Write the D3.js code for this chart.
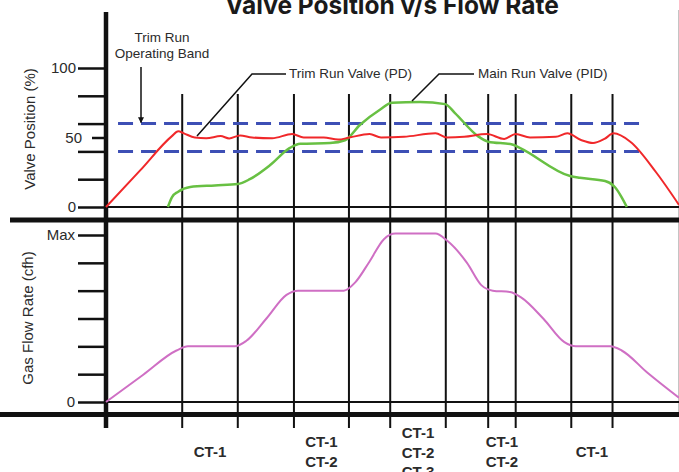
<!DOCTYPE html>
<html>
<head>
<meta charset="utf-8">
<script src="https://cdn.jsdelivr.net/npm/d3@7"></script>
<style>
  body { margin: 0; background: #fff; }
  svg { display: block; font-family: "Liberation Sans", Arial, sans-serif; }
</style>
</head>
<body>
<div id="chart"></div>
<script>
// data
const title = 'Valve Position v/s Flow Rate';
const eventTimes = [13.3, 23, 32.8, 42.4, 49.6, 59.3, 66.7, 71.5, 81.2, 88.4];
const stageLabels = [['CT-1'], ['CT-1', 'CT-2'], ['CT-1', 'CT-2', 'CT-3'], ['CT-1', 'CT-2'], ['CT-1']];
const valveTicks = [0, 20, 40, 60, 80, 100];
const valveLabelTicks = [0, 100];
const valveMidTick = 50;
const bandLimits = [40, 60];
const bandSpan = [2.1, 93.4];
const flowTicks = [0, 1, 2, 3, 4, 5, 6];
const flowTickNames = ['0', '', '', '', '', '', 'Max'];

// trim run valve (PD), % open
const trimValve = [
  [0, 0], [6, 26.5], [11.5, 51], [12.6, 54.5], [13.6, 53], [15.5, 50], [17.5, 49.5], [20, 51],
  [21.5, 49.3], [23.4, 51.5], [25.5, 50], [29, 49.5], [32.5, 52.5], [34.5, 50],
  [38, 50], [40.5, 48.5], [42.5, 50], [46, 52.5], [48, 50], [52, 50.5], [57.5, 53],
  [59.5, 50], [62.5, 50.5], [66.5, 52.5], [69.5, 49], [71.5, 52.5], [74, 50],
  [78.5, 50.5], [80.5, 53], [83, 48], [85, 46], [87, 49], [88.6, 53], [91.5, 47],
  [96, 25], [100, 1.5],
];

// main run valve (PID), % open
const mainValve = [
  [10.8, 0], [11.5, 7], [12.6, 11], [14.7, 14.4], [19, 15.5], [23, 16.5], [25.1, 20],
  [28.6, 30], [32.1, 42.5], [33.9, 45.5], [39.1, 46], [41.7, 48], [44.3, 59],
  [47.8, 70], [49.9, 75], [54.8, 75.5], [59.2, 74], [60.9, 67.6], [64.9, 51],
  [66.7, 47], [70.9, 45], [72.3, 42.4], [81, 22.3], [82.7, 21], [87.1, 18.7],
  [88.8, 14.4], [90, 7], [90.9, 0],
];

// gas flow rate, in steps of one sixth of max
const gasFlow = [
  [0, 0], [6.5, 0.98], [12.3, 1.85], [14.3, 2], [22.5, 2], [24.5, 2.2], [28, 3],
  [31.5, 3.85], [33.5, 4], [41.5, 4], [43.5, 4.3], [46, 5.05], [48.5, 5.85],
  [50.5, 6.05], [57.5, 6.05], [59.5, 5.8], [63, 5], [65.5, 4.2], [67.5, 4],
  [70.5, 3.95], [72.5, 3.75], [76.3, 3], [80, 2.15], [82, 2], [88, 2], [90, 1.85],
  [94.5, 1.05], [100, 0.15],
];

const width = 679;
const height = 472;

const svg = d3.select('#chart')
  .append('svg')
  .attr('width', width)
  .attr('height', height);

// scales
const x = d3.scaleLinear().domain([0, 100]).range([106, 679]);
const yValve = d3.scaleLinear().domain([0, 100]).range([207, 68]);
const yFlow = d3.scaleLinear().domain([0, 6]).range([402, 235]);

const ink = '#111';
const textColor = '#2b2b2b';

// title
svg.append('text')
  .attr('x', 392)
  .attr('y', 14)
  .attr('text-anchor', 'middle')
  .attr('font-family', 'Inter, "Open Sans", sans-serif')
  .attr('font-weight', 700)
  .attr('font-size', 24.5)
  .attr('fill', '#1a1a1a')
  .text(title);

// light frame line on the right
svg.append('line')
  .attr('x1', 678.5).attr('x2', 678.5)
  .attr('y1', 10).attr('y2', 414)
  .attr('stroke', '#c4c4c4')
  .attr('stroke-width', 1);

// event lines (compressor trains switching)
svg.append('g')
  .selectAll('line')
  .data(eventTimes)
  .join('line')
  .attr('x1', (d) => x(d))
  .attr('x2', (d) => x(d))
  .attr('y1', 94)
  .attr('y2', 428)
  .attr('stroke', ink)
  .attr('stroke-width', 2);

// horizontal frame lines
const hLines = [
  { y: yValve(0), x1: 106, x2: 679, w: 2 },
  { y: 220, x1: 10, x2: 679, w: 5 },
  { y: yFlow(0), x1: 106, x2: 679, w: 2 },
  { y: 414.5, x1: 0, x2: 679, w: 5 },
];
svg.append('g')
  .selectAll('line')
  .data(hLines)
  .join('line')
  .attr('x1', (d) => d.x1)
  .attr('x2', (d) => d.x2)
  .attr('y1', (d) => d.y)
  .attr('y2', (d) => d.y)
  .attr('stroke', ink)
  .attr('stroke-width', (d) => d.w);

// main vertical axis
svg.append('line')
  .attr('x1', 106).attr('x2', 106)
  .attr('y1', 12).attr('y2', 428)
  .attr('stroke', ink)
  .attr('stroke-width', 4.5);

// valve axis
const styleAxis = (g) => g
  .call((a) => a.select('.domain').remove())
  .call((a) => a.selectAll('line').attr('stroke', ink).attr('stroke-width', 2.5))
  .call((a) => a.selectAll('text')
    .attr('fill', textColor)
    .attr('font-size', 15)
    .attr('font-family', '"Liberation Sans", Arial, sans-serif'));

svg.append('g')
  .attr('transform', 'translate(106,0)')
  .call(d3.axisLeft(yValve)
    .tickValues(valveTicks)
    .tickSize(28)
    .tickPadding(2)
    .tickFormat((d) => (valveLabelTicks.includes(d) ? d : '')))
  .call(styleAxis);

svg.append('g')
  .attr('transform', 'translate(106,0)')
  .call(d3.axisLeft(yValve)
    .tickValues([valveMidTick])
    .tickSize(14)
    .tickPadding(10))
  .call(styleAxis);

// flow axis
svg.append('g')
  .attr('transform', 'translate(106,0)')
  .call(d3.axisLeft(yFlow)
    .tickValues(flowTicks)
    .tickSize(28)
    .tickPadding(3)
    .tickFormat((d, i) => flowTickNames[i]))
  .call(styleAxis);

// axis titles
const axisTitle = (label, cx, cy) => svg.append('text')
  .attr('transform', `translate(${cx},${cy}) rotate(-90)`)
  .attr('text-anchor', 'middle')
  .attr('dy', '0.35em')
  .attr('font-size', 15)
  .attr('fill', textColor)
  .text(label);

axisTitle('Valve Position (%)', 30, 129);
axisTitle('Gas Flow Rate (cfh)', 28, 318);

// trim run operating band
svg.append('g')
  .selectAll('line')
  .data(bandLimits)
  .join('line')
  .attr('x1', x(bandSpan[0]))
  .attr('x2', x(bandSpan[1]))
  .attr('y1', (d) => yValve(d))
  .attr('y2', (d) => yValve(d))
  .attr('stroke', '#3d4fb5')
  .attr('stroke-width', 3)
  .attr('stroke-dasharray', '15 8');

// series
const valveLine = d3.line()
  .x((d) => x(d[0]))
  .y((d) => yValve(d[1]))
  .curve(d3.curveMonotoneX);

const flowLine = d3.line()
  .x((d) => x(d[0]))
  .y((d) => yFlow(d[1]))
  .curve(d3.curveMonotoneX);

svg.append('path')
  .attr('d', valveLine(mainValve))
  .attr('fill', 'none')
  .attr('stroke', '#68c043')
  .attr('stroke-width', 2.5);

svg.append('path')
  .attr('d', valveLine(trimValve))
  .attr('fill', 'none')
  .attr('stroke', '#f0282a')
  .attr('stroke-width', 2);

svg.append('path')
  .attr('d', flowLine(gasFlow))
  .attr('fill', 'none')
  .attr('stroke', '#cf6fc4')
  .attr('stroke-width', 2);

// annotations
svg.append('defs')
  .append('marker')
  .attr('id', 'arrow')
  .attr('viewBox', '0 0 10 10')
  .attr('refX', 9)
  .attr('refY', 5)
  .attr('markerWidth', 4)
  .attr('markerHeight', 4)
  .attr('orient', 'auto')
  .append('path')
  .attr('d', 'M0,0 L10,5 L0,10 Z')
  .attr('fill', ink);

const noteText = svg.append('g')
  .attr('font-size', 13.5)
  .attr('fill', textColor);

noteText.append('text')
  .attr('x', 162).attr('y', 42)
  .attr('text-anchor', 'middle')
  .text('Trim Run');
noteText.append('text')
  .attr('x', 162).attr('y', 58)
  .attr('text-anchor', 'middle')
  .text('Operating Band');
noteText.append('text')
  .attr('x', 289).attr('y', 78)
  .text('Trim Run Valve (PD)');
noteText.append('text')
  .attr('x', 478).attr('y', 78)
  .text('Main Run Valve (PID)');

svg.append('line')
  .attr('x1', 141).attr('x2', 141)
  .attr('y1', 67).attr('y2', yValve(bandLimits[1]) - 1)
  .attr('stroke', ink)
  .attr('stroke-width', 1.5)
  .attr('marker-end', 'url(#arrow)');

const leaders = [
  [[286, 74], [252, 74], [197, 136]],
  [[474, 74], [439, 74], [412, 101]],
];
svg.append('g')
  .selectAll('path')
  .data(leaders)
  .join('path')
  .attr('d', (d) => d3.line()(d))
  .attr('fill', 'none')
  .attr('stroke', ink)
  .attr('stroke-width', 1.5);

// stage labels under each pair of event lines
const stages = svg.append('g')
  .attr('font-size', 15)
  .attr('font-weight', 700)
  .attr('fill', textColor)
  .attr('text-anchor', 'middle');

stageLabels.forEach((lines, i) => {
  const cx = (x(eventTimes[2 * i]) + x(eventTimes[2 * i + 1])) / 2;
  const top = lines.length === 1 ? 457 : (lines.length === 2 ? 447 : 438);
  stages.selectAll(null)
    .data(lines)
    .join('text')
    .attr('x', cx)
    .attr('y', (d, j) => top + j * 19.5)
    .text((d) => d);
});
</script>
</body>
</html>
